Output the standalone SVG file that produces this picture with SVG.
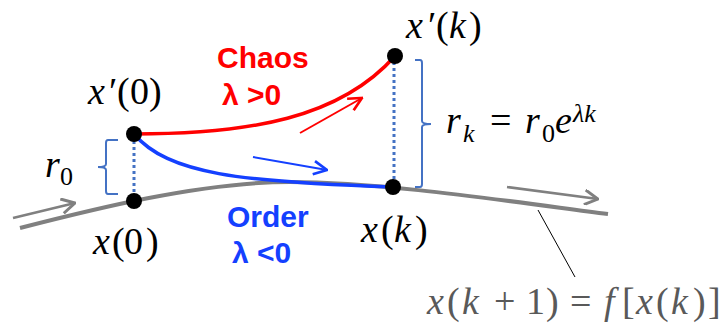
<svg xmlns="http://www.w3.org/2000/svg" width="721" height="324" viewBox="0 0 721 324">
<style>
.m{font-family:"Liberation Serif","DejaVu Serif",serif;font-size:38px;fill:#000}
.i{font-style:italic}
.s{font-size:26px}
.g{fill:#595959}
.lbl{font-family:"Liberation Sans",Arial,sans-serif;font-weight:bold;font-size:30px}
.dot{fill:#000}
.dash{stroke:#4472c4;stroke-width:3;stroke-dasharray:3 3;fill:none}
.brace{stroke:#4472c4;stroke-width:2;fill:none}
</style>
<defs>
<marker id="ag" markerUnits="userSpaceOnUse" markerWidth="16" markerHeight="16" refX="11" refY="6" orient="auto" viewBox="0 0 12 12"><path d="M1,0.5 L11,6 L1,11.5" fill="none" stroke="#808080" stroke-width="2.2"/></marker>
<marker id="ar" markerUnits="userSpaceOnUse" markerWidth="16" markerHeight="16" refX="11" refY="6" orient="auto" viewBox="0 0 12 12"><path d="M1,1 L11,6 L1,11" fill="none" stroke="#ff0000" stroke-width="2"/></marker>
<marker id="ab" markerUnits="userSpaceOnUse" markerWidth="16" markerHeight="16" refX="11" refY="6" orient="auto" viewBox="0 0 12 12"><path d="M1,1 L11,6 L1,11" fill="none" stroke="#1440ff" stroke-width="2"/></marker>
</defs>
<g id="connectors">
<path id="trajectory" d="M20,228 C90,210 200,182 290,182 C380,182 500,200 608,214" fill="none" stroke="#808080" stroke-width="4"/>
<line x1="13" y1="218" x2="75" y2="203" stroke="#808080" stroke-width="2.5" marker-end="url(#ag)"/>
<line x1="507" y1="187" x2="598" y2="199" stroke="#808080" stroke-width="2.5" marker-end="url(#ag)"/>
<path id="chaos-curve" d="M134,134 C250,134 340,118 395,56" fill="none" stroke="#ff0000" stroke-width="3.5"/>
<path id="order-curve" d="M134,134 C168,174 240,182 393,187" fill="none" stroke="#1440ff" stroke-width="3.5"/>
<line x1="300" y1="133" x2="362" y2="98" stroke="#ff0000" stroke-width="2" marker-end="url(#ar)"/>
<line x1="253" y1="157" x2="327" y2="170" stroke="#1440ff" stroke-width="2" marker-end="url(#ab)"/>
<line class="dash" x1="134" y1="141" x2="134" y2="196"/>
<line class="dash" x1="394" y1="62" x2="394" y2="182"/>
<line x1="538" y1="210" x2="575" y2="277" stroke="#000" stroke-width="1"/>
<path class="brace" d="M118,140 L108,140 Q106,140 106,143 L106,164 Q106,167 98,167 Q106,167 106,170 L106,191 Q106,194 108,194 L118,194"/>
<path class="brace" d="M415,60 L420,60 Q422,60 422,63 L422,121 Q422,124 431,124 Q422,124 422,127 L422,184 Q422,187 420,187 L415,187"/>
</g>
<g id="node-xp0">
<circle class="dot" cx="134" cy="134" r="8"/>
<text class="m" y="104"><tspan class="i" x="88">x</tspan><tspan x="109">′</tspan><tspan x="117">(</tspan><tspan x="130">0</tspan><tspan x="149">)</tspan></text>
</g>
<g id="node-x0">
<circle class="dot" cx="134" cy="201" r="8"/>
<text class="m" y="254"><tspan class="i" x="93">x</tspan><tspan x="112">(</tspan><tspan x="124">0</tspan><tspan x="146">)</tspan></text>
</g>
<g id="node-xpk">
<circle class="dot" cx="395" cy="56" r="8"/>
<text class="m" y="38"><tspan class="i" x="406">x</tspan><tspan x="428">′</tspan><tspan x="436">(</tspan><tspan class="i" x="449">k</tspan><tspan x="469">)</tspan></text>
</g>
<g id="node-xk">
<circle class="dot" cx="393" cy="187" r="8"/>
<text class="m" y="242"><tspan class="i" x="361">x</tspan><tspan x="381">(</tspan><tspan class="i" x="394">k</tspan><tspan x="415">)</tspan></text>
</g>
<g id="label-r0">
<text class="m"><tspan class="i" x="45" y="177">r</tspan><tspan class="s" x="60" y="185">0</tspan></text>
</g>
<g id="label-rk">
<text class="m"><tspan class="i" x="446" y="133">r</tspan><tspan class="i s" x="463" y="142">k</tspan><tspan x="490" y="133">=</tspan><tspan class="i" x="525" y="133">r</tspan><tspan class="s" x="542" y="142">0</tspan><tspan class="i" x="555" y="133">e</tspan><tspan class="i s" x="573" y="122">λk</tspan></text>
</g>
<g id="label-chaos">
<text class="lbl" x="217" y="68" fill="#ff0000">Chaos</text>
<text class="lbl" x="222" y="105" fill="#ff0000">λ &gt;0</text>
</g>
<g id="label-order">
<text class="lbl" x="227" y="227" fill="#1440ff">Order</text>
<text class="lbl" x="232" y="263" fill="#1440ff">λ &lt;0</text>
</g>
<g id="label-map">
<text class="m g" y="314"><tspan class="i" x="427">x</tspan><tspan x="447">(</tspan><tspan class="i" x="462">k</tspan><tspan x="494">+</tspan><tspan x="526">1</tspan><tspan x="546">)</tspan><tspan x="570">=</tspan><tspan class="i" x="604">f</tspan><tspan x="622">[</tspan><tspan class="i" x="636">x</tspan><tspan x="656">(</tspan><tspan class="i" x="671">k</tspan><tspan x="693">)</tspan><tspan x="708">]</tspan></text>
</g>
</svg>
